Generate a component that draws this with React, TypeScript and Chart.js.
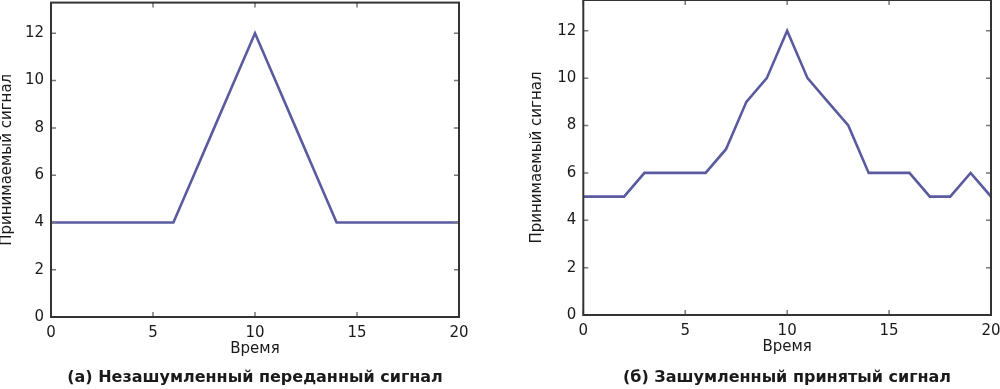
import React, { useEffect, useRef } from "react";
import { Chart, registerables } from "chart.js";

Chart.register(...registerables);

const time = [0, 1, 2, 3, 4, 5, 6, 7, 8, 9, 10, 11, 12, 13, 14, 15, 16, 17, 18, 19, 20];
const cleanSignal = [4, 4, 4, 4, 4, 4, 4, 6, 8, 10, 12, 10, 8, 6, 4, 4, 4, 4, 4, 4, 4];
const noisySignal = [5, 5, 5, 6, 6, 6, 6, 7, 9, 10, 12, 10, 9, 8, 6, 6, 6, 5, 5, 6, 5];
const xTitle = "Время";
const yTitle = "Принимаемый сигнал";
const captionA = "(а) Незашумленный переданный сигнал";
const captionB = "(б) Зашумленный принятый сигнал";

const FONT = "'DejaVu Sans', 'Liberation Sans', Arial, sans-serif";
const TEXT = "#1a1a1a";
const LINE = "#5a5b9e";

const frameTicks = {
  id: "frameTicks",
  afterDraw(chart: any) {
    const { ctx, chartArea: a, scales } = chart;
    ctx.save();
    ctx.strokeStyle = "#777";
    ctx.lineWidth = 1.5;
    const len = 5;
    ctx.beginPath();
    scales.x.ticks.forEach((t: any) => {
      const px = scales.x.getPixelForValue(t.value);
      ctx.moveTo(px, a.bottom);
      ctx.lineTo(px, a.bottom - len);
      ctx.moveTo(px, a.top);
      ctx.lineTo(px, a.top + len);
    });
    scales.y.ticks.forEach((t: any) => {
      const py = scales.y.getPixelForValue(t.value);
      ctx.moveTo(a.left, py);
      ctx.lineTo(a.left + len, py);
      ctx.moveTo(a.right, py);
      ctx.lineTo(a.right - len, py);
    });
    ctx.stroke();
    ctx.strokeStyle = "#333";
    ctx.lineWidth = 2;
    ctx.strokeRect(a.left, a.top, a.right - a.left, a.bottom - a.top);
    ctx.restore();
  },
};

type PanelProps = {
  values: number[];
  pad: { left: number; right: number; top: number; bottom: number };
  yWidth: number;
};

function Panel({ values, pad, yWidth }: PanelProps) {
  const ref = useRef<HTMLCanvasElement | null>(null);
  useEffect(() => {
    if (!ref.current) return;
    const chart = new Chart(ref.current, {
      type: "line",
      data: {
        datasets: [
          {
            data: time.map((t, i) => ({ x: t, y: values[i] })),
            borderColor: LINE,
            borderWidth: 2.6,
            pointRadius: 0,
            fill: false,
            tension: 0,
          },
        ],
      },
      options: {
        animation: false,
        responsive: false,
        maintainAspectRatio: false,
        layout: { padding: pad },
        plugins: { legend: { display: false }, tooltip: { enabled: false }, title: { display: false } },
        scales: {
          x: {
            type: "linear",
            min: 0,
            max: 20,
            grid: { display: false, drawTicks: false },
            border: { display: false },
            ticks: {
              stepSize: 5,
              padding: 7,
              color: TEXT,
              font: { family: FONT, size: 15 },
              includeBounds: false,
              maxRotation: 0,
            },
            title: {
              display: true,
              text: xTitle,
              color: TEXT,
              font: { family: FONT, size: 15, lineHeight: 1 },
              padding: { top: 0, bottom: 0 },
            },
            afterFit: (s: any) => {
              s.height = 39.5;
              s.paddingLeft = 0;
              s.paddingRight = 0;
            },
          },
          y: {
            type: "linear",
            min: 0,
            max: 13.3,
            grid: { display: false, drawTicks: false },
            border: { display: false },
            ticks: {
              stepSize: 2,
              padding: 7,
              color: TEXT,
              font: { family: FONT, size: 15 },
              includeBounds: false,
            },
            title: {
              display: true,
              text: yTitle,
              color: TEXT,
              font: { family: FONT, size: 15, lineHeight: 1 },
              padding: { top: 0, bottom: 0 },
            },
            afterFit: (s: any) => {
              s.width = yWidth;
              s.paddingTop = 0;
              s.paddingBottom = 0;
            },
          },
        },
      },
      plugins: [frameTicks],
    });
    return () => chart.destroy();
  }, []);
  return <canvas ref={ref} width={500} height={389} style={{ display: "block", width: 500, height: 389 }} />;
}

const captionStyle: React.CSSProperties = {
  position: "absolute",
  top: 367,
  width: 500,
  textAlign: "center",
  fontFamily: FONT,
  fontWeight: "bold",
  fontSize: 16,
  lineHeight: "20px",
  color: TEXT,
  whiteSpace: "nowrap",
};

export default function App() {
  return (
    <div style={{ position: "absolute", left: 0, top: 0, width: 1000, height: 389, background: "#fff", overflow: "hidden" }}>
      <div style={{ position: "absolute", left: 0, top: 0 }}>
        <Panel values={cleanSignal} pad={{ left: 0, right: 41, top: 2.6, bottom: 32.5 }} yWidth={51} />
      </div>
      <div style={{ position: "absolute", left: 500, top: 0 }}>
        <Panel values={noisySignal} pad={{ left: 30, right: 9, top: 0, bottom: 34.5 }} yWidth={53.3} />
      </div>
      <div style={{ ...captionStyle, left: 5 }}>{captionA}</div>
      <div style={{ ...captionStyle, left: 537 }}>{captionB}</div>
    </div>
  );
}
